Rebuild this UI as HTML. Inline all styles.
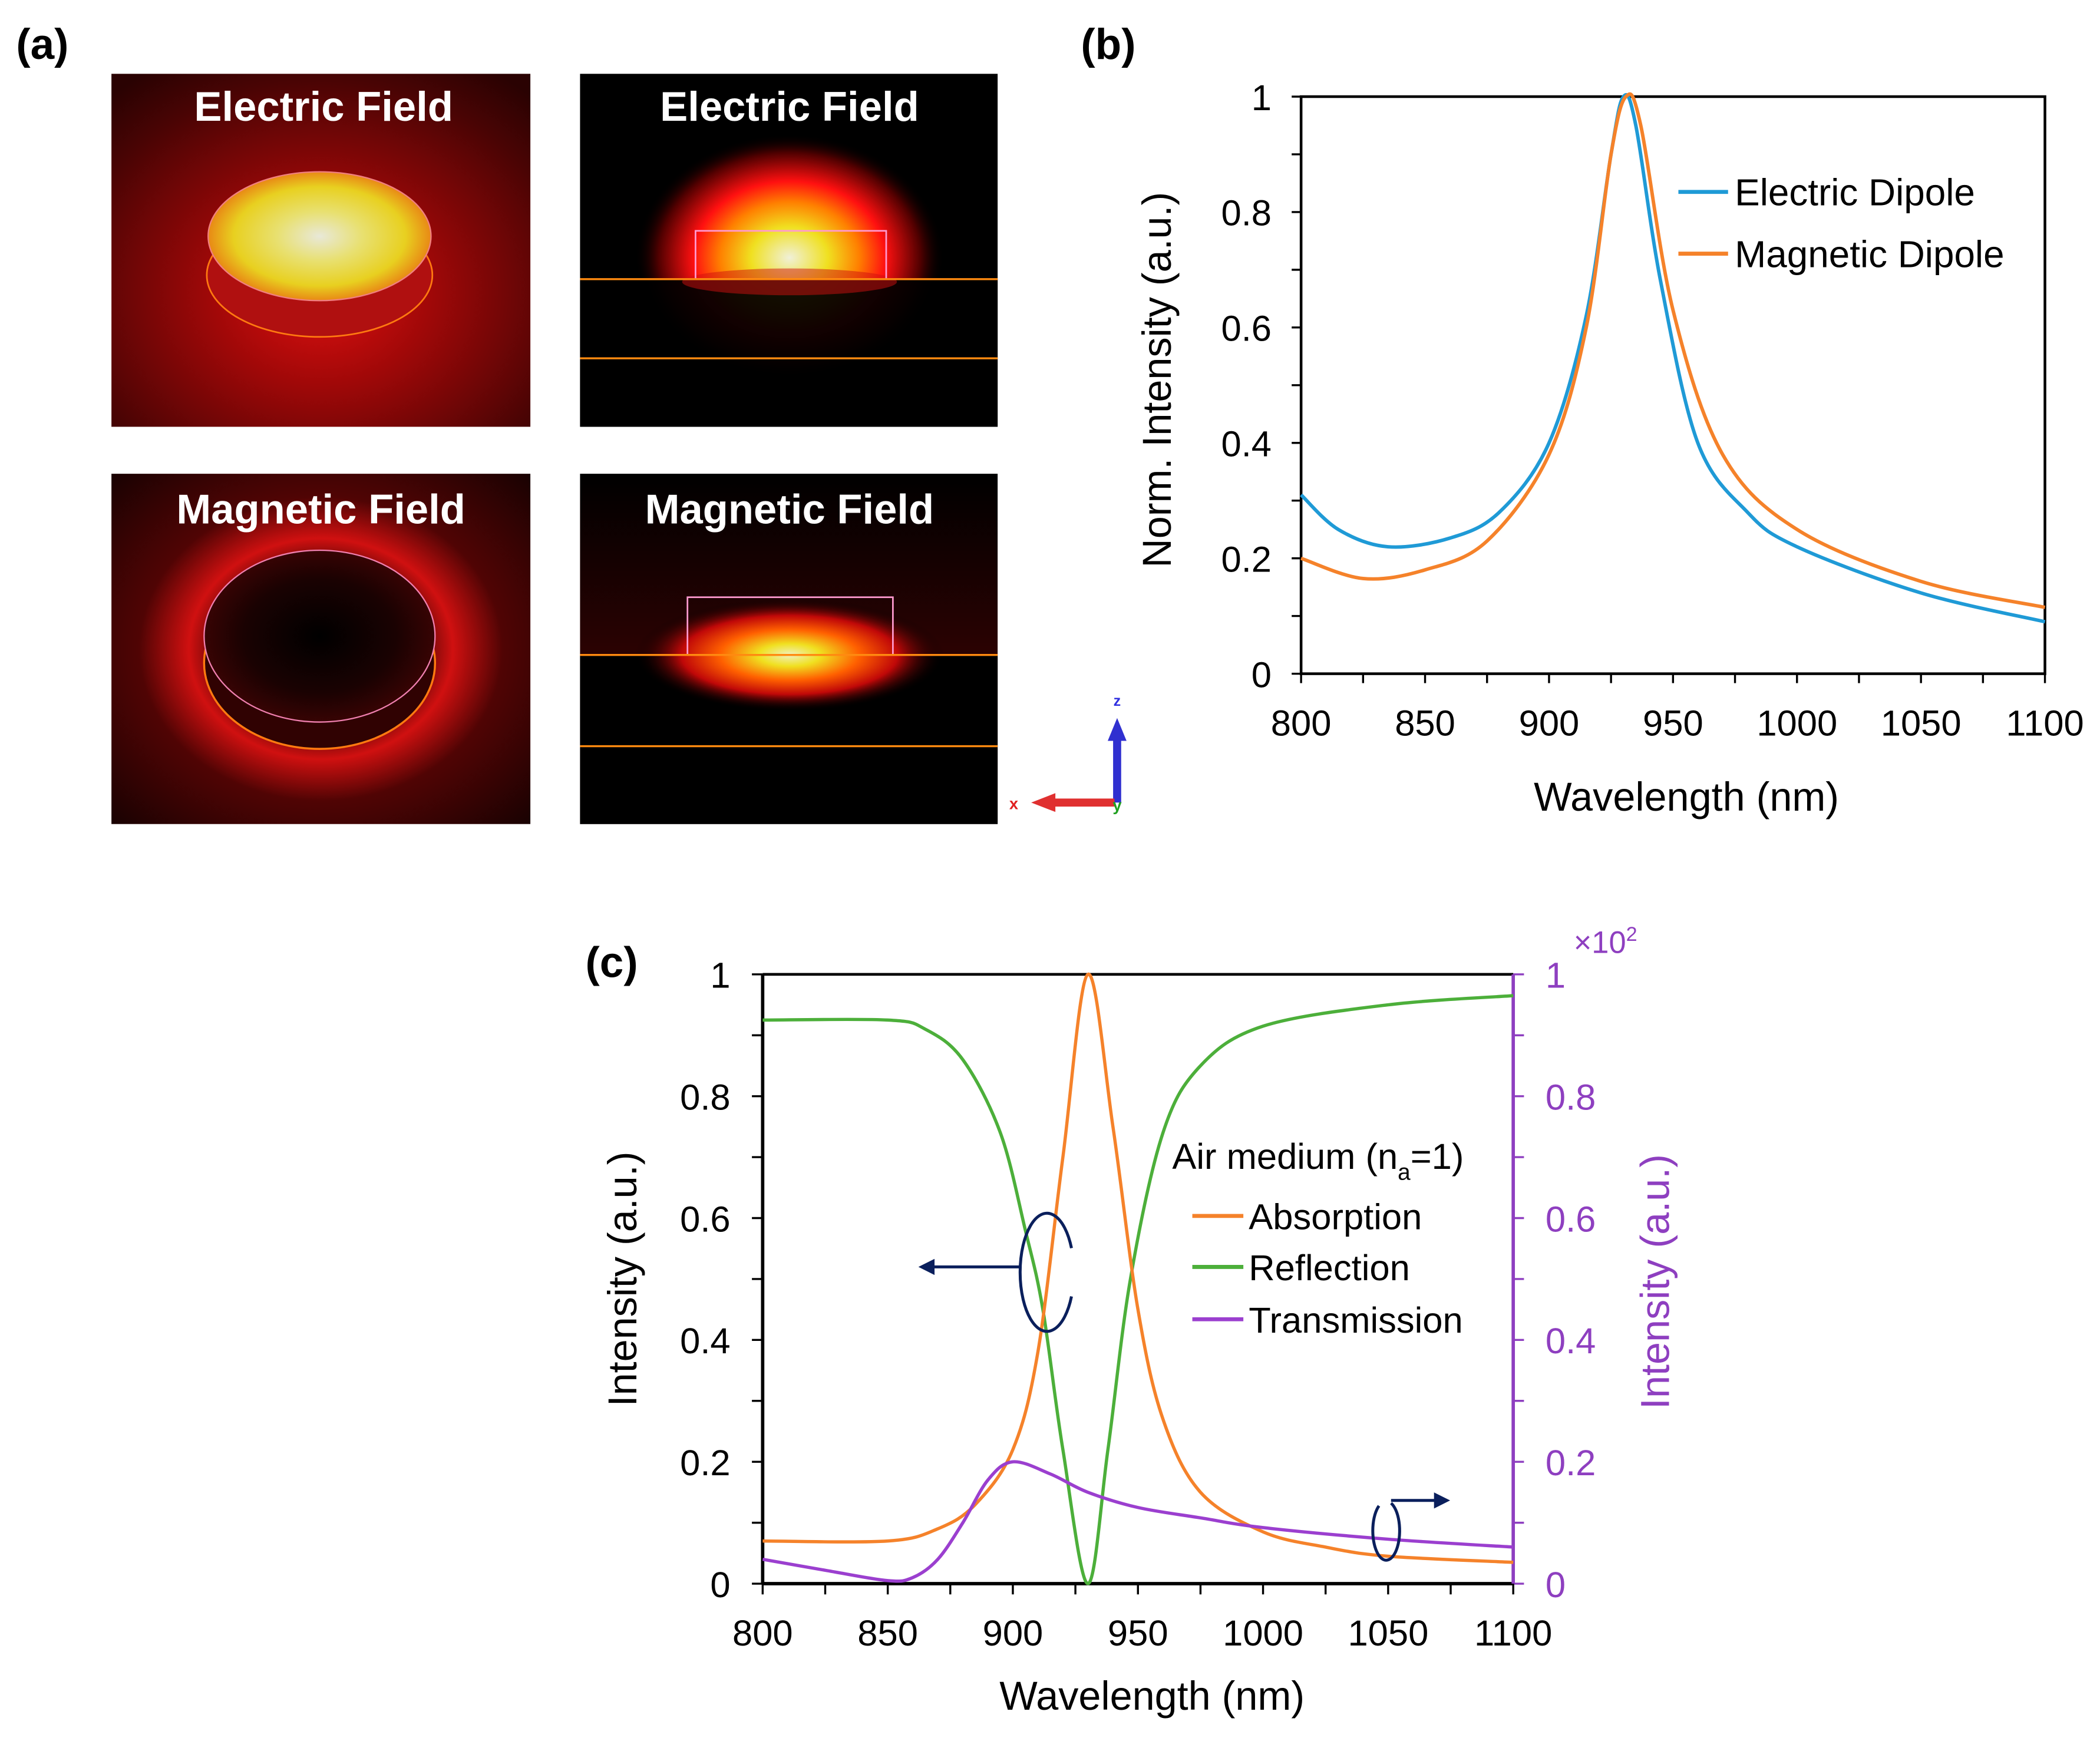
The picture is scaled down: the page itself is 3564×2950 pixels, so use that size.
<!DOCTYPE html>
<html><head><meta charset="utf-8"><style>
html,body{margin:0;padding:0;background:#fff;}
svg{display:block;font-family:"Liberation Sans",Arial,sans-serif;}
</style></head><body>
<svg id="fig" width="3564" height="2950" viewBox="0 0 1564 1295" preserveAspectRatio="none" xmlns="http://www.w3.org/2000/svg">
<defs>
 <radialGradient id="bgE1" cx="0.5" cy="0.62" r="0.75">
  <stop offset="0" stop-color="#e01010"/><stop offset="0.35" stop-color="#a00808"/><stop offset="0.8" stop-color="#4a0404"/><stop offset="1" stop-color="#2a0202"/>
 </radialGradient>
 <radialGradient id="topE1" cx="0.5" cy="0.5" r="0.55">
  <stop offset="0" stop-color="#e8e8d8"/><stop offset="0.35" stop-color="#e8e070"/><stop offset="0.7" stop-color="#e8d020"/><stop offset="1" stop-color="#e86a10"/>
 </radialGradient>
 <radialGradient id="glowE2" cx="0.5" cy="0.5" r="0.5">
  <stop offset="0" stop-color="#f0f0d8"/><stop offset="0.25" stop-color="#f0e020"/><stop offset="0.45" stop-color="#ff8000"/><stop offset="0.62" stop-color="#ff1010"/><stop offset="0.85" stop-color="#500000"/><stop offset="1" stop-color="#000" stop-opacity="0"/>
 </radialGradient>
 <radialGradient id="bgM1" cx="0.5" cy="0.5" r="0.7">
  <stop offset="0" stop-color="#000"/><stop offset="0.3" stop-color="#300404"/><stop offset="0.45" stop-color="#d01010"/><stop offset="0.62" stop-color="#500404"/><stop offset="1" stop-color="#1a0202"/>
 </radialGradient>
 <radialGradient id="innerM1" cx="0.5" cy="0.5" r="0.55">
  <stop offset="0" stop-color="#000"/><stop offset="0.6" stop-color="#1a0202"/><stop offset="1" stop-color="#400404"/>
 </radialGradient>
 <radialGradient id="glowM2" cx="0.5" cy="0.5" r="0.5">
  <stop offset="0" stop-color="#f0f0c0"/><stop offset="0.2" stop-color="#f0e020"/><stop offset="0.45" stop-color="#ff6000"/><stop offset="0.7" stop-color="#c00808"/><stop offset="1" stop-color="#000" stop-opacity="0"/>
 </radialGradient>
 <linearGradient id="darkTop" x1="0" y1="0" x2="0" y2="1">
  <stop offset="0" stop-color="#000"/><stop offset="0.5" stop-color="#2a0202"/><stop offset="1" stop-color="#1a0000"/>
 </linearGradient>
</defs>

<text x="12" y="44" font-size="32" font-weight="bold">(a)</text>
<text x="805" y="44" font-size="32" font-weight="bold">(b)</text>
<text x="436" y="728" font-size="32" font-weight="bold">(c)</text>

<g>
 <rect x="83" y="55" width="312" height="263" fill="url(#bgE1)"/>
 <ellipse cx="238" cy="205" rx="84" ry="46" fill="#b01010" stroke="#ff7a10" stroke-width="1.2"/>
 <ellipse cx="238" cy="176" rx="83" ry="48" fill="url(#topE1)" stroke="#f08080" stroke-width="1"/>
 <text x="241" y="90" font-size="31" font-weight="bold" fill="#fff" text-anchor="middle">Electric Field</text>
</g>
<g>
 <rect x="432" y="55" width="311" height="263" fill="#000"/>
 <ellipse cx="588" cy="192" rx="115" ry="92" fill="url(#glowE2)"/>
 <rect x="432" y="208" width="311" height="110" fill="#000" opacity="0.93"/>
 <ellipse cx="588" cy="210" rx="80" ry="10" fill="#d01010" opacity="0.5"/>
 <rect x="518" y="172" width="142" height="36" fill="none" stroke="#ff9ad0" stroke-width="1.2"/>
 <line x1="432" y1="208" x2="743" y2="208" stroke="#ff8a10" stroke-width="1.5"/>
 <line x1="432" y1="267" x2="743" y2="267" stroke="#ff8a10" stroke-width="1.5"/>
 <text x="588" y="90" font-size="31" font-weight="bold" fill="#fff" text-anchor="middle">Electric Field</text>
</g>
<g>
 <rect x="83" y="353" width="312" height="261" fill="url(#bgM1)"/>
 <ellipse cx="238" cy="494" rx="86" ry="64" fill="#300202" stroke="#ff7a10" stroke-width="1.5"/>
 <ellipse cx="238" cy="474" rx="86" ry="64" fill="url(#innerM1)" stroke="#f080b0" stroke-width="1"/>
 <text x="239" y="390" font-size="31" font-weight="bold" fill="#fff" text-anchor="middle">Magnetic Field</text>
</g>
<g>
 <rect x="432" y="353" width="311" height="261" fill="url(#darkTop)"/>
 <rect x="432" y="488" width="311" height="126" fill="#000"/>
 <ellipse cx="588" cy="488" rx="115" ry="42" fill="url(#glowM2)"/>
 <rect x="512" y="445" width="153" height="43" fill="none" stroke="#ff9ad0" stroke-width="1.2"/>
 <line x1="432" y1="488" x2="743" y2="488" stroke="#ff8a10" stroke-width="1.5"/>
 <line x1="432" y1="556" x2="743" y2="556" stroke="#ff8a10" stroke-width="1.5"/>
 <text x="588" y="390" font-size="31" font-weight="bold" fill="#fff" text-anchor="middle">Magnetic Field</text>
</g>
<g>
 <rect x="829" y="548" width="6" height="50" fill="#3030d0"/>
 <polygon points="832,535 825,552 839,552" fill="#3030d0"/>
 <rect x="780" y="595" width="50" height="6" fill="#e03030"/>
 <polygon points="768,598 786,591 786,605" fill="#e03030"/>
 <text x="832" y="526" font-size="11" font-weight="bold" fill="#3030e0" text-anchor="middle">z</text>
 <text x="755" y="603" font-size="12" font-weight="bold" fill="#e02020" text-anchor="middle">x</text>
 <text x="832" y="604" font-size="12" font-weight="bold" fill="#20a020" text-anchor="middle">y</text>
</g>

<g id="chartB"></g>
<g id="chartC"></g>
</svg>
<script>
// ---------- Chart (b) data ----------
const bWavelengths = [800, 815, 835, 860, 880, 900, 915, 925, 930, 935, 945, 960, 980, 1000, 1050, 1100];
const bElectric    = [0.31, 0.25, 0.22, 0.235, 0.28, 0.40, 0.62, 0.90, 1.00, 0.95, 0.68, 0.40, 0.28, 0.22, 0.14, 0.09];
const bMagWavelengths = [800, 825, 850, 875, 900, 915, 925, 931, 937, 950, 970, 1000, 1050, 1100];
const bMagnetic    = [0.20, 0.165, 0.18, 0.23, 0.38, 0.60, 0.90, 1.00, 0.95, 0.63, 0.38, 0.25, 0.16, 0.115];
const bXTicks = [800, 850, 900, 950, 1000, 1050, 1100];
const bYTicks = [0, 0.2, 0.4, 0.6, 0.8, 1];
const bYTickLabels = ["0", "0.2", "0.4", "0.6", "0.8", "1"];

// ---------- Chart (c) data ----------
const cAbsX = [800, 850, 870, 885, 900, 910, 920, 930, 940, 950, 960, 975, 1000, 1025, 1050, 1100];
const cAbsorption = [0.07, 0.07, 0.09, 0.13, 0.22, 0.38, 0.70, 1.00, 0.75, 0.45, 0.27, 0.15, 0.085, 0.06, 0.045, 0.035];
const cRefX = [800, 850, 865, 880, 895, 905, 912, 920, 930, 938, 947, 960, 975, 1000, 1050, 1100];
const cReflection = [0.925, 0.925, 0.91, 0.86, 0.74, 0.58, 0.45, 0.22, 0.00, 0.22, 0.50, 0.74, 0.85, 0.915, 0.95, 0.965];
const cTraX = [800, 825, 850, 860, 870, 880, 890, 900, 915, 930, 950, 975, 1000, 1050, 1100];
const cTransmission = [0.04, 0.022, 0.005, 0.01, 0.04, 0.10, 0.17, 0.20, 0.18, 0.15, 0.125, 0.108, 0.092, 0.073, 0.06];
const cXTicks = [800, 850, 900, 950, 1000, 1050, 1100];
const cYTicks = [0, 0.2, 0.4, 0.6, 0.8, 1];
const cYTickLabels = ["0", "0.2", "0.4", "0.6", "0.8", "1"];

const NS = "http://www.w3.org/2000/svg";
function mk(parent, tag, attrs, text) {
  const e = document.createElementNS(NS, tag);
  for (const k in attrs) e.setAttribute(k, attrs[k]);
  if (text !== undefined) e.textContent = text;
  parent.appendChild(e);
  return e;
}
function smoothPath(pts) {
  let d = "M" + pts[0][0].toFixed(2) + "," + pts[0][1].toFixed(2);
  for (let i = 0; i < pts.length - 1; i++) {
    const p0 = pts[Math.max(0, i - 1)], p1 = pts[i], p2 = pts[i + 1], p3 = pts[Math.min(pts.length - 1, i + 2)];
    const t = 6;
    const c1 = [p1[0] + (p2[0] - p0[0]) / t, p1[1] + (p2[1] - p0[1]) / t];
    const c2 = [p2[0] - (p3[0] - p1[0]) / t, p2[1] - (p3[1] - p1[1]) / t];
    d += " C" + c1[0].toFixed(2) + "," + c1[1].toFixed(2) + " " + c2[0].toFixed(2) + "," + c2[1].toFixed(2) + " " + p2[0].toFixed(2) + "," + p2[1].toFixed(2);
  }
  return d;
}

// ----- Chart B -----
(function () {
  const g = document.getElementById("chartB");
  const L = 969, R = 1523, T = 72, B = 502;
  const sx = v => L + (v - 800) / 300 * (R - L);
  const sy = v => B - v * (B - T);
  const frame = mk(g, "rect", { x: L, y: T, width: R - L, height: B - T, fill: "none", stroke: "#000", "stroke-width": 2 });
  
  
  for (let v = 0; v <= 1.0001; v += 0.1) {
    const t = mk(g, "line", { x1: L - 7, x2: L, y1: sy(v), y2: sy(v), stroke: "#000", "stroke-width": 1.5 });
    
    
  }
  for (let v = 800; v <= 1100; v += 25) {
    const t = mk(g, "line", { x1: sx(v), x2: sx(v), y1: B, y2: B + 7, stroke: "#000", "stroke-width": 1.5 });
    
    
  }
  bYTicks.forEach((v, i) => {
    const t = mk(g, "text", { x: L - 22, y: sy(v) + 10, "font-size": 27, "text-anchor": "end" }, bYTickLabels[i]);
    
    
  });
  bXTicks.forEach(v => {
    const t = mk(g, "text", { x: sx(v), y: B + 46, "font-size": 27, "text-anchor": "middle" }, String(v));
    
    
  });
  const xt = mk(g, "text", { x: (L + R) / 2 + 10, y: 604, "font-size": 30, "text-anchor": "middle" }, "Wavelength (nm)");
  
  
  const yt = mk(g, "text", { x: 0, y: 0, "font-size": 30, "text-anchor": "middle", transform: "translate(872,283) rotate(-90)" }, "Norm.  Intensity (a.u.)");
  
  
  const e = mk(g, "path", { d: smoothPath(bWavelengths.map((w, i) => [sx(w), sy(bElectric[i])])), fill: "none", stroke: "#1f9ad6", "stroke-width": 2.6 });
  
  
  const m = mk(g, "path", { d: smoothPath(bMagWavelengths.map((w, i) => [sx(w), sy(bMagnetic[i])])), fill: "none", stroke: "#f5822a", "stroke-width": 2.6 });
  
  
  const l1 = mk(g, "line", { x1: 1250, x2: 1287, y1: 143, y2: 143, stroke: "#1f9ad6", "stroke-width": 3 });
  
  
  const t1 = mk(g, "text", { x: 1292, y: 153, "font-size": 28 }, "Electric Dipole");
  
  
  const l2 = mk(g, "line", { x1: 1250, x2: 1287, y1: 189, y2: 189, stroke: "#f5822a", "stroke-width": 3 });
  
  
  const t2 = mk(g, "text", { x: 1292, y: 199, "font-size": 28 }, "Magnetic Dipole");
  
  
})();

// ----- Chart C -----
(function () {
  const g = document.getElementById("chartC");
  const L = 568, R = 1127, T = 726, B = 1180;
  const purple = "#8e3fc0";
  const sx = v => L + (v - 800) / 300 * (R - L);
  const sy = v => B - v * (B - T);
  const top = mk(g, "line", { x1: L, x2: R, y1: T, y2: T, stroke: "#000", "stroke-width": 2 });
  
  
  const la = mk(g, "line", { x1: L, x2: L, y1: T, y2: B, stroke: "#000", "stroke-width": 2.5 });
  
  
  const ba = mk(g, "line", { x1: L, x2: R, y1: B, y2: B, stroke: "#000", "stroke-width": 2.5 });
  
  
  const ra = mk(g, "line", { x1: R, x2: R, y1: T, y2: B, stroke: purple, "stroke-width": 2.5 });
  
  
  for (let v = 0; v <= 1.0001; v += 0.1) {
    const t = mk(g, "line", { x1: L - 8, x2: L, y1: sy(v), y2: sy(v), stroke: "#000", "stroke-width": 1.5 });
    
    
    const r = mk(g, "line", { x1: R, x2: R + 8, y1: sy(v), y2: sy(v), stroke: purple, "stroke-width": 1.5 });
    
    
  }
  for (let v = 800; v <= 1100; v += 25) {
    const t = mk(g, "line", { x1: sx(v), x2: sx(v), y1: B, y2: B + 8, stroke: "#000", "stroke-width": 1.5 });
    
    
  }
  cYTicks.forEach((v, i) => {
    const t = mk(g, "text", { x: L - 24, y: sy(v) + 10, "font-size": 27, "text-anchor": "end" }, cYTickLabels[i]);
    
    
    const r = mk(g, "text", { x: R + 24, y: sy(v) + 10, "font-size": 27, fill: purple }, cYTickLabels[i]);
    
    
  });
  cXTicks.forEach(v => {
    const t = mk(g, "text", { x: sx(v), y: B + 46, "font-size": 27, "text-anchor": "middle" }, String(v));
    
    
  });
  const sc = mk(g, "text", { x: 1172, y: 710, "font-size": 23, fill: purple });
  
  
  mk(sc, "tspan", {}, "×10");
  mk(sc, "tspan", { dy: -9, "font-size": 15 }, "2");
  const xt = mk(g, "text", { x: 858, y: 1274, "font-size": 30, "text-anchor": "middle" }, "Wavelength (nm)");
  
  
  const yt = mk(g, "text", { x: 0, y: 0, "font-size": 30, "text-anchor": "middle", transform: "translate(474,953) rotate(-90)" }, "Intensity (a.u.)");
  
  
  const yt2 = mk(g, "text", { x: 0, y: 0, "font-size": 30, "text-anchor": "middle", fill: purple, transform: "translate(1243,955) rotate(-90)" }, "Intensity (a.u.)");
  
  

  const ref = mk(g, "path", { d: smoothPath(cRefX.map((w, i) => [sx(w), sy(cReflection[i])])), fill: "none", stroke: "#4caf3a", "stroke-width": 2.4 });
  
  
  const abs = mk(g, "path", { d: smoothPath(cAbsX.map((w, i) => [sx(w), sy(cAbsorption[i])])), fill: "none", stroke: "#f5822a", "stroke-width": 2.4 });
  
  
  const tra = mk(g, "path", { d: smoothPath(cTraX.map((w, i) => [sx(w), sy(cTransmission[i])])), fill: "none", stroke: "#9b3fcf", "stroke-width": 2.4 });
  
  

  const lt = mk(g, "text", { x: 873, y: 871, "font-size": 27 });
  
  
  mk(lt, "tspan", {}, "Air medium (n");
  mk(lt, "tspan", { dy: 8, "font-size": 17 }, "a");
  mk(lt, "tspan", { dy: -8 }, "=1)");
  const items = [["Absorption", "#f5822a", 906], ["Reflection", "#4caf3a", 944], ["Transmission", "#9b3fcf", 983]];
  items.forEach(it => {
    const s = mk(g, "line", { x1: 888, x2: 926, y1: it[2], y2: it[2], stroke: it[1], "stroke-width": 3 });
    
    
    const t = mk(g, "text", { x: 930, y: it[2] + 10, "font-size": 27 }, it[0]);
    
    
  });
  const a1 = mk(g, "path", { d: "M798,930 A20,44 0 1,0 798,966", fill: "none", stroke: "#0a1f5c", "stroke-width": 2.2 });
  
  
  const a2 = mk(g, "line", { x1: 760, x2: 694, y1: 944, y2: 944, stroke: "#0a1f5c", "stroke-width": 2.2 });
  
  
  const a3 = mk(g, "polygon", { points: "684,944 696,938 696,950", fill: "#0a1f5c" });
  
  
  const b1 = mk(g, "path", { d: "M1027,1122 A10,22 0 1,0 1036,1120", fill: "none", stroke: "#0a1f5c", "stroke-width": 2.2 });
  
  
  const b2 = mk(g, "line", { x1: 1036, x2: 1070, y1: 1118, y2: 1118, stroke: "#0a1f5c", "stroke-width": 2.2 });
  
  
  const b3 = mk(g, "polygon", { points: "1080,1118 1068,1112 1068,1124", fill: "#0a1f5c" });
  
  
})();
</script>
</body></html>
